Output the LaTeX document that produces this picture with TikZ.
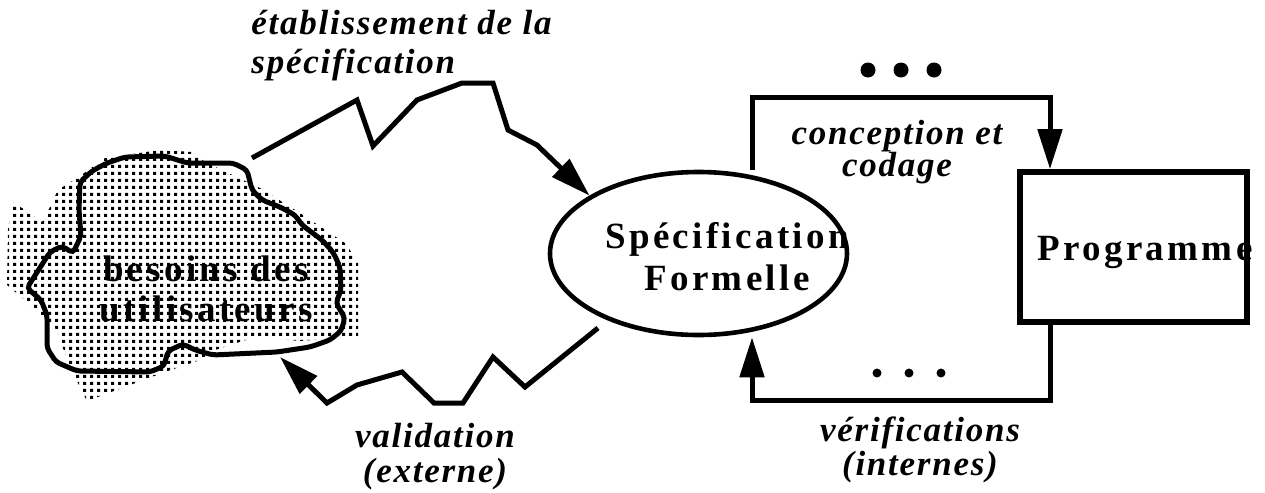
\documentclass[tikz,border=0pt]{standalone}
\usepackage{fontspec}
\setmainfont{Liberation Serif}
\newfontfamily\widefont[LetterSpace=9]{Liberation Serif}
\newfontfamily\slantfont[LetterSpace=5]{Liberation Serif}
\usetikzlibrary{arrows.meta,shapes.geometric,patterns}

\pgfdeclarepatternformonly{griddots}{\pgfqpoint{0pt}{0pt}}{\pgfqpoint{3.35pt}{3.35pt}}{\pgfqpoint{3.35pt}{3.35pt}}{%
  \pgfpathrectangle{\pgfqpoint{0pt}{0pt}}{\pgfqpoint{1.6pt}{1.6pt}}\pgfusepath{fill}}

\begin{document}
\begin{tikzpicture}[x=0.5pt,y=-0.5pt]
\tikzset{
  flow/.style={line width=2.5pt,-{Triangle[length=20pt,width=12pt]}},
  boldtext/.style={font=\widefont\fontsize{18.5}{21}\selectfont\bfseries,align=center,inner sep=0pt},
  slanttext/.style={font=\slantfont\fontsize{17.5}{17}\selectfont\bfseries\itshape,inner sep=0pt},
}
\useasboundingbox (0,0) rectangle (1265,493);

% user needs: dotted patch, outline, text
\fill[pattern=griddots] (160,150) -- (192,152) -- (205,162) -- (260,188) -- (300,213) -- (345,243)
  -- (358,262) -- (358,336) -- (340,338) -- (300,341) -- (255,337) -- (215,350) -- (200,360)
  -- (165,372) -- (87,401) -- (68,363) -- (57,330) -- (33,307) -- (7,285) -- (8,230) -- (12,202)
  -- (22,208) -- (42,222) -- (47,213) -- (58,190) -- (80,176) -- (105,158) -- cycle;
\draw[line width=2.5pt,rounded corners=2pt] (125,157) -- (165,156) -- (187,163) -- (233,163) -- (247,170)
  -- (252,190) -- (262,200) -- (280,207) -- (295,215) -- (302,225) -- (322,240) -- (333,252)
  -- (340,267) -- (341,290) -- (336,303) -- (345,318) -- (341,331) -- (330,340) -- (310,347)
  -- (277,352) -- (213,355) -- (195,350) -- (183,344) -- (168,351) -- (164,366) -- (150,372)
  -- (77,371) -- (56,362) -- (47,348) -- (47,315) -- (41,300) -- (27,288) -- (50,252) -- (62,246)
  -- (73,253) -- (81,236) -- (79,210) -- (80,182) -- (92,171) -- (107,163) -- cycle;
\node[boldtext,font=\widefont\fontsize{18.5}{20}\selectfont\bfseries] (users) at (206,289) {besoins des\\utilisateurs};

\node[ellipse,draw,line width=2.3pt,minimum width=148.5pt,minimum height=81.5pt,inner sep=0pt] (spec) at (698.5,253.5) {};
\node[boldtext] (spectext) at (727,257) {Spécification\\Formelle};

\node[draw,line width=2.8pt,minimum width=113.5pt,minimum height=75pt,inner sep=0pt] (prog) at (1133.5,247) {};
\node[boldtext] (progtext) at (1145,252) {Programme};

\coordinate (estart) at (252,158);
\coordinate (vstart) at (598,328);
\coordinate (vend) at (280,357);
\coordinate (ctop) at (1050,97);
\coordinate (cbot) at (752,400);

\draw[flow] (estart) -- (357,100) -- (373,146) -- (417,100) -- (462,83) -- (493,83) -- (508,130)
  -- (537,145) -- (spec.152);
\draw[flow] (vstart) -- (525,387) -- (493,357) -- (463,403) -- (434,403) -- (402,372) -- (357,385)
  -- (327,403) -- (vend);

\draw[flow] (spec.north -| cbot) |- (ctop) -- (prog.north -| ctop);
\draw[flow] (prog.south -| ctop) |- (cbot) -- (cbot |- spec.south);

\foreach \x in {868,901,934} \fill (\x,70) circle (7.5);
\foreach \x in {877,909,941} \fill (\x,373) circle (4.5);

\node[slanttext,align=left,font=\slantfont\fontsize{17.5}{19.5}\selectfont\bfseries\itshape] (estab) at (251,46) [anchor=west] {établissement de la\\spécification};
\node[slanttext,align=center,font=\slantfont\fontsize{17.5}{17.5}\selectfont\bfseries\itshape] (valid) at (435,457) {validation\\(externe)};
\node[slanttext,align=center,font=\slantfont\fontsize{17.5}{16}\selectfont\bfseries\itshape] (concep) at (897,152) {conception et\\codage};
\node[slanttext,align=center,font=\slantfont\fontsize{17.5}{17}\selectfont\bfseries\itshape] (verif) at (920,450) {vérifications\\(internes)};
\end{tikzpicture}
\end{document}
